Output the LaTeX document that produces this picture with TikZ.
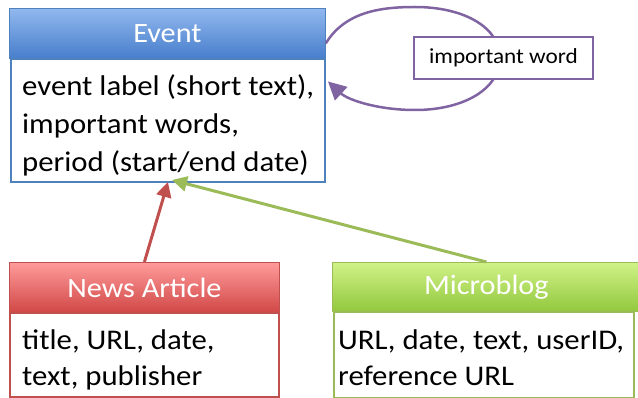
\documentclass[tikz,border=0pt]{standalone}
\usepackage{fontspec}
\setmainfont{Carlito}[FakeStretch=1.08]
\usetikzlibrary{arrows.meta,calc}
\definecolor{evborder}{RGB}{79,129,189}
\definecolor{evtop}{RGB}{145,184,238}
\definecolor{evbot}{RGB}{72,126,204}
\definecolor{nwborder}{RGB}{192,80,77}
\definecolor{nwtop}{RGB}{255,155,155}
\definecolor{nwbot}{RGB}{208,72,70}
\definecolor{mbborder}{RGB}{155,187,89}
\definecolor{mbtop}{RGB}{208,242,135}
\definecolor{mbbot}{RGB}{146,200,62}
\definecolor{purp}{RGB}{128,100,162}
\tikzset{
  hdrbox/.style={anchor=north west, inner sep=0pt, text=white, font=\fontsize{28}{34}\selectfont, line width=0.8pt},
  bodybox/.style={anchor=north west, inner sep=0pt, fill=white, line width=2pt},
  bodytext/.style={anchor=base west, inner sep=0pt, font=\fontsize{28.5}{34}\selectfont},
  linkarrow/.style={line width=3pt, -{Triangle[length=15pt,width=15pt]}},
}
\begin{document}
\begin{tikzpicture}[x=1pt,y=-1pt]
\useasboundingbox (0,0) rectangle (638,398);
% Event
\node[hdrbox, draw=evborder, top color=evtop, bottom color=evbot, minimum width=316pt, minimum height=50pt] (evhead) at (9,8) {Event};
\node[bodybox, draw=evborder, minimum width=314pt, minimum height=123pt] (evbody) at (10,58) {};
\node[bodytext] (evline1) at (22,96) {event label (short text),};
\node[bodytext] (evline2) at (22,134) {important words,};
\node[bodytext] (evline3) at (22,172) {period (start/end date)};
% News Article
\node[hdrbox, draw=nwborder, top color=nwtop, bottom color=nwbot, minimum width=270pt, minimum height=50pt] (nwhead) at (9,262) {News Article};
\node[bodybox, draw=nwborder, minimum width=269pt, minimum height=84pt] (nwbody) at (9,312) {};
\node[bodytext] (nwline1) at (22,350) {title, URL, date,};
\node[bodytext] (nwline2) at (22,385) {text, publisher};
% Microblog
\node[hdrbox, draw=mbborder, top color=mbtop, bottom color=mbbot, minimum width=308pt, minimum height=49pt] (mbhead) at (332,262) {Microblog};
\node[bodybox, draw=mbborder, minimum width=300pt, minimum height=86pt] (mbbody) at (333,311) {};
\node[bodytext] (mbline1) at (338,350) {URL, date, text, userID,};
\node[bodytext] (mbline2) at (338,385) {reference URL};
% loop
\coordinate (loopstart) at ($(evhead.east)+(0,10)$);
\coordinate (loopend) at ($(evbody.east)+(2,-39)$);
\draw[purp, line width=2.5pt, -{Triangle[length=18pt,width=18pt]}]
  (loopstart) .. controls (345,12) and (380,7) .. (415,7)
  .. controls (465,7) and (500,28) .. (500,58)
  .. controls (500,88) and (465,110) .. (415,110)
  .. controls (378,110) and (348,100) .. (loopend);
\node[draw=purp, line width=2pt, fill=white, minimum width=179pt, minimum height=42pt, inner sep=0pt, font=\fontsize{21.5}{26}\selectfont] (imp) at (503.5,58) {important word};
% links
\draw[linkarrow, nwborder] (nwhead.north) -- ($(evbody.south)+(0,-1)$);
\draw[linkarrow, mbborder] (mbhead.north) -- ($(evbody.south)+(4,-3)$);
\end{tikzpicture}
\end{document}
